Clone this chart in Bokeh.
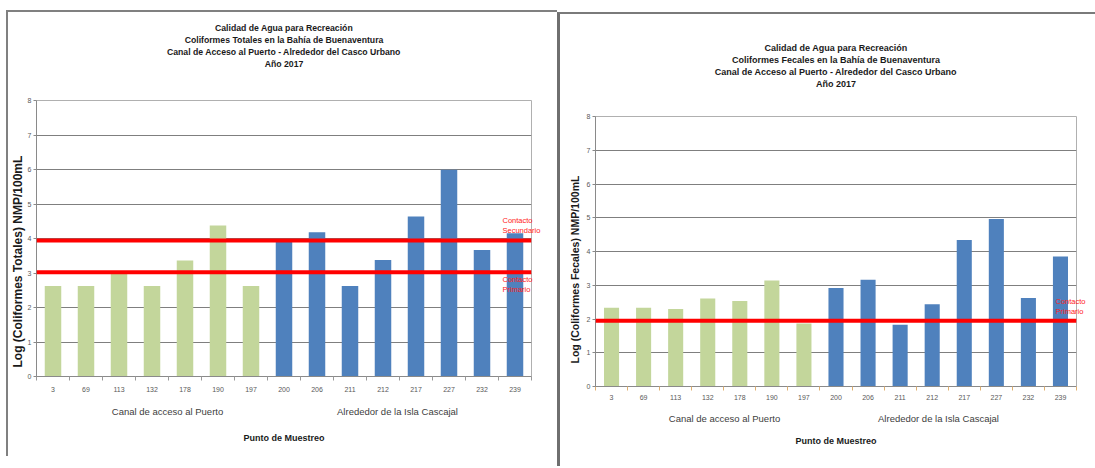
from bokeh.plotting import figure
from bokeh.models import (Range1d, Span, FixedTicker, ColumnDataSource,
                          LinearAxis, Title)
from bokeh.layouts import row, column
from bokeh.embed import file_html
from bokeh.resources import INLINE

# ---------------- data ----------------
stations = ["3", "69", "113", "132", "178", "190", "197", "200",
            "206", "211", "212", "217", "227", "232", "239"]
group_names = ["Canal de acceso al Puerto", "Alrededor de la Isla Cascajal"]
station_group = [0] * 7 + [1] * 8
group_colors = ["#C3D69B", "#4F81BD"]

totales = [2.62, 2.62, 3.00, 2.62, 3.36, 4.38, 2.62, 3.94,
           4.18, 2.62, 3.38, 4.64, 5.99, 3.67, 4.15]
fecales = [2.33, 2.33, 2.30, 2.61, 2.53, 3.14, 1.87, 2.92,
           3.16, 1.83, 2.44, 4.34, 4.96, 2.62, 3.85]

limits_totales = [3.94, 3.02]
limit_names_totales = ["Contacto\nSecundario", "Contacto\nPrimario"]
limits_fecales = [1.95]
limit_names_fecales = ["Contacto\nPrimario"]

titles_totales = ["Calidad de Agua para Recreación",
                  "Coliformes Totales en la Bahía de Buenaventura",
                  "Canal de Acceso al Puerto - Alrededor del Casco Urbano",
                  "Año 2017"]
titles_fecales = ["Calidad de Agua para Recreación",
                  "Coliformes Fecales en la Bahía de Buenaventura",
                  "Canal de Acceso al Puerto - Alrededor del Casco Urbano",
                  "Año 2017"]
ylabel_totales = "Log (Coliformes Totales) NMP/100mL"
ylabel_fecales = "Log (Coliformes Fecales) NMP/100mL"
xlabel = "Punto de Muestreo"
y_ticks = [0, 1, 2, 3, 4, 5, 6, 7, 8]

FONT = "Liberation Sans"
TOP = 88
BOTTOM = 80


def make_chart(values, limits, limit_names, titles, ylabel, g):
    n = len(stations)
    fl, ft, fw, fh = g["frame"]          # frame in page px
    fb = ft + fh
    ppx = fw / n
    ppy = fh / (y_ticks[-1] - y_ticks[0])

    def dx(px):
        return (px - fl) / ppx - 0.5

    def dy(py):
        return (fb - py) / ppy

    p = figure(frame_width=fw, frame_height=fh,
               min_border_left=g["left"], min_border_top=TOP,
               min_border_right=g["right"], min_border_bottom=BOTTOM,
               x_range=Range1d(-0.5, n - 0.5), y_range=Range1d(y_ticks[0], y_ticks[-1]),
               output_backend="svg", toolbar_location=None, title=None)
    p.background_fill_color = "white"
    p.border_fill_color = "white"
    p.outline_line_color = "#b0b0b0"
    p.outline_line_width = 1

    src = ColumnDataSource(dict(
        x=list(range(n)), top=values,
        color=[group_colors[k] for k in station_group]))
    p.vbar(x="x", top="top", width=g["barw"], fill_color="color",
           line_color=None, source=src)

    # grid
    p.xgrid.grid_line_color = None
    p.ygrid.ticker = FixedTicker(ticks=y_ticks)
    p.ygrid.grid_line_color = "#7f7f7f"
    p.ygrid.grid_line_width = 1.2

    # y axis
    p.yaxis.ticker = FixedTicker(ticks=y_ticks)
    p.yaxis.axis_line_color = "#8a8a8a"
    p.yaxis.major_tick_line_color = "#8a8a8a"
    p.yaxis.major_tick_out = 3
    p.yaxis.major_tick_in = 0
    p.yaxis.minor_tick_line_color = None
    p.yaxis.major_label_standoff = 2
    p.yaxis.major_label_text_font = FONT
    p.yaxis.major_label_text_font_size = "7px"
    p.yaxis.major_label_text_color = "#595959"

    # x axis with station labels
    p.xaxis.ticker = FixedTicker(ticks=list(range(n)),
                                 minor_ticks=[i + 0.5 for i in range(-1, n)])
    p.xaxis.major_label_overrides = {i: s for i, s in enumerate(stations)}
    p.xaxis.axis_line_color = "#8a8a8a"
    p.xaxis.major_tick_line_color = None
    p.xaxis.minor_tick_line_color = g["minor_color"]
    p.xaxis.minor_tick_out = 4
    p.xaxis.minor_tick_in = 0
    p.xaxis.major_tick_out = 0
    p.xaxis.major_tick_in = 0
    p.xaxis.major_label_standoff = g["xstand"]
    p.xaxis.major_label_text_font = FONT
    p.xaxis.major_label_text_font_size = "7px"
    p.xaxis.major_label_text_color = "#595959"

    # second x axis: group labels + axis title
    gpos = [dx(v) for v in g["group_x"]]
    gax = LinearAxis(ticker=FixedTicker(ticks=gpos),
                     major_label_overrides={v: t for v, t in zip(gpos, group_names)},
                     axis_line_color=None, major_tick_line_color=None,
                     minor_tick_line_color=None, major_tick_out=0, major_tick_in=0,
                     major_label_standoff=g["gstand"],
                     major_label_text_font=FONT, major_label_text_font_size="9.5px",
                     major_label_text_color="#404040",
                     axis_label=xlabel, axis_label_standoff=g["xlstand"],
                     axis_label_text_font=FONT, axis_label_text_font_size="9px",
                     axis_label_text_font_style="bold", axis_label_text_color="#1a1a1a")
    p.add_layout(gax, "below")

    # limit lines
    for lv in limits:
        p.add_layout(Span(location=lv, dimension="width", line_color="#FF0000",
                          line_width=4))

    # limit names (right axis, pulled into the frame)
    lpos = [dy(v) for v in g["limit_y"]]
    rax = LinearAxis(ticker=FixedTicker(ticks=lpos),
                     major_label_overrides={v: t for v, t in zip(lpos, limit_names)},
                     axis_line_color=None, major_tick_line_color=None,
                     minor_tick_line_color=None, major_tick_out=0, major_tick_in=0,
                     major_label_standoff=g["lstand"],
                     major_label_text_font=FONT, major_label_text_font_size="7.5px",
                     major_label_text_color="#FF2020")
    p.add_layout(rax, "right")

    # gap between title block and frame
    p.add_layout(Title(text=" ", align="center", text_font=FONT,
                       text_font_size=g["title_fs"], standoff=g["title_gap"]), "above")
    # title lines (closest to the frame first)
    for t in reversed(titles):
        p.add_layout(Title(text=t, align="center", text_font=FONT,
                           text_font_size=g["title_fs"], text_font_style="bold",
                           text_color="#1a1a1a", standoff=0), "above")

    # y axis title
    p.add_layout(Title(text=ylabel, align="left", text_font=FONT,
                       text_font_size=g["ylab_fs"], text_font_style="bold",
                       text_color="#1a1a1a", offset=g["ylab_off"],
                       standoff=g["ylab_stand"]), "left")
    return p


geo_left = dict(frame=(33, 100, 495, 276), left=25, right=26,
                barw=0.5, xstand=6, minor_color="#9a9a9a",
                group_x=[164, 394], gstand=11, xlstand=13,
                limit_y=[225, 284], lstand=-29,
                title_fs="8.7px", title_gap=20,
                ylab_fs="12px", ylab_off=9, ylab_stand=0)
geo_right = dict(frame=(592, 116, 481, 270), left=35, right=22,
                 barw=0.47, xstand=4, minor_color="#e0b070",
                 group_x=[721, 935], gstand=10, xlstand=9,
                 limit_y=[306], lstand=-21,
                 title_fs="9px", title_gap=16,
                 ylab_fs="10.5px", ylab_off=23, ylab_stand=6)

p1 = make_chart(totales, limits_totales, limit_names_totales, titles_totales,
                ylabel_totales, geo_left)
p2 = make_chart(fecales, limits_fecales, limit_names_fecales, titles_fecales,
                ylabel_fecales, geo_right)
p2.margin = (14, 0, 0, 0)

c1 = column(p1, margin=(10, 0, 0, 6),
            styles={"border-left": "2px solid #808080", "border-top": "2px solid #808080"})
c2 = column(p2, margin=(12, 0, 0, 0),
            styles={"border-left": "3px solid #6f6f6f", "border-top": "2px solid #7a7a7a"})

layout = row(c1, c2, spacing=0)
open("out.html", "w").write(file_html(layout, INLINE))
